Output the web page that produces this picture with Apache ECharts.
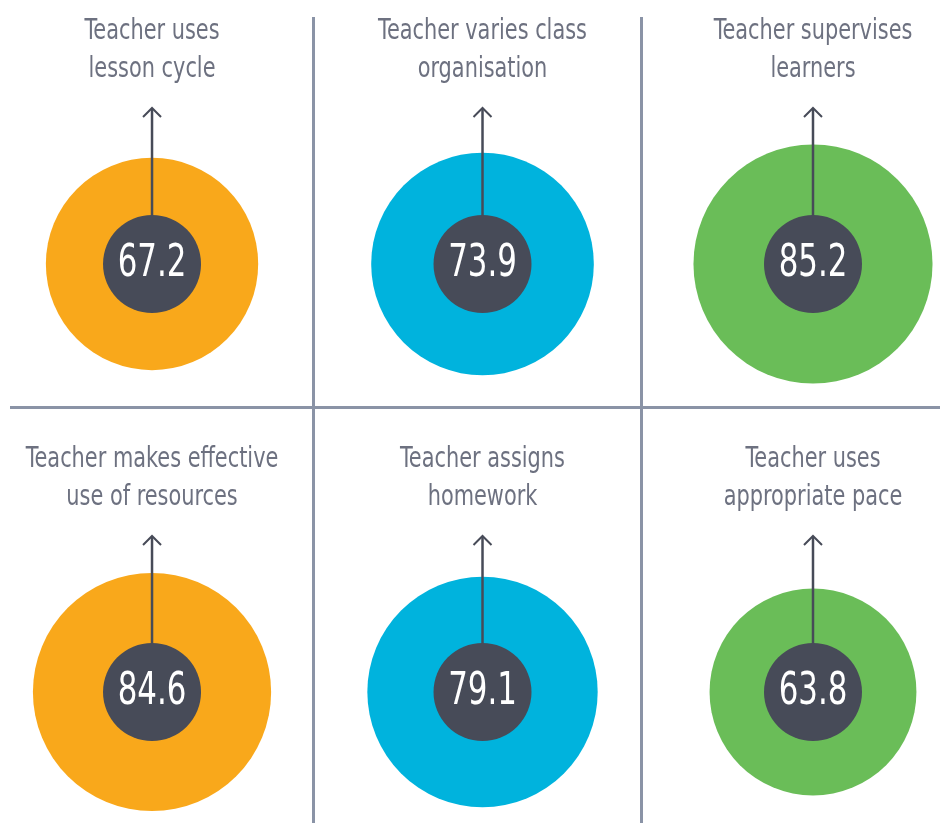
<!DOCTYPE html>
<html>
<head>
<meta charset="utf-8">
<script src="https://cdn.jsdelivr.net/npm/echarts@6/dist/echarts.min.js"></script>
<style>
  html, body { margin: 0; padding: 0; background: #ffffff; }
  #chart { width: 940px; height: 823px; }
</style>
</head>
<body>
<div id="chart"></div>
<script>
// Classroom practice indicators, one panel each (column, row)
const titles = [
  'Teacher uses\nlesson cycle',
  'Teacher varies class\norganisation',
  'Teacher supervises\nlearners',
  'Teacher makes effective\nuse of resources',
  'Teacher assigns\nhomework',
  'Teacher uses\nappropriate pace'
];
const values = [67.2, 73.9, 85.2, 84.6, 79.1, 63.8];
const columns = [0, 1, 2, 0, 1, 2];
const rows = [0, 0, 0, 1, 1, 1];
const colors = ['#f9a81b', '#00b3dd', '#6abd58', '#f9a81b', '#00b3dd', '#6abd58'];

const FONT = '"DejaVu Sans Condensed", "Liberation Sans", sans-serif';
const DARK = '#474b58';
const LINE = '#8a93a6';

const points = values.map((v, i) => ({
  value: [columns[i], rows[i], v],
  itemStyle: { color: colors[i], opacity: 1 }
}));
const centres = values.map((v, i) => ({ value: [columns[i], rows[i], v, titles[i]] }));

const chart = echarts.init(document.getElementById('chart'), null, { renderer: 'canvas' });

chart.setOption({
  animation: false,
  backgroundColor: '#ffffff',
  grid: { left: 0, top: 0, width: 940, height: 823 },
  xAxis: { type: 'value', min: -0.46, max: 2.3843, show: false },
  yAxis: { type: 'value', min: -0.6168, max: 1.3061, inverse: true, show: false },
  graphic: [
    { type: 'line', shape: { x1: 10, y1: 407.5, x2: 940, y2: 407.5 }, style: { stroke: LINE, lineWidth: 3 }, z: 0 },
    { type: 'line', shape: { x1: 313.5, y1: 17, x2: 313.5, y2: 823 }, style: { stroke: LINE, lineWidth: 3 }, z: 0 },
    { type: 'line', shape: { x1: 641.5, y1: 17, x2: 641.5, y2: 823 }, style: { stroke: LINE, lineWidth: 3 }, z: 0 }
  ],
  series: [
    {
      // outer disc: area proportional to the value
      type: 'scatter',
      data: points,
      symbol: 'circle',
      symbolSize: d => 25.9 * Math.sqrt(d[2]),
      silent: true,
      z: 2
    },
    {
      // arrow rising from the value badge, and the panel heading
      type: 'custom',
      data: centres,
      silent: true,
      z: 3,
      renderItem: function (params, api) {
        const c = api.coord([api.value(0), api.value(1)]);
        const cx = c[0], cy = c[1];
        const top = cy - 156;
        return {
          type: 'group',
          children: [
            { type: 'line', shape: { x1: cx, y1: cy - 45, x2: cx, y2: top + 1 },
              style: { stroke: DARK, lineWidth: 2.5 } },
            { type: 'polyline', shape: { points: [[cx - 9, top + 9], [cx, top], [cx + 9, top + 9]] },
              style: { stroke: DARK, lineWidth: 2, fill: null } },
            { type: 'text', x: cx, y: cy - 214, scaleX: 0.8,
              style: { text: api.value(3), fill: '#6d7180', font: '29px ' + FONT,
                       align: 'center', verticalAlign: 'middle', lineHeight: 38 } }
          ]
        };
      }
    },
    {
      // dark badge behind the value
      type: 'scatter',
      data: values.map((v, i) => [columns[i], rows[i], v]),
      symbol: 'circle',
      symbolSize: 98,
      itemStyle: { color: DARK, opacity: 1 },
      silent: true,
      z: 4
    },
    {
      // value printed on the badge
      type: 'custom',
      data: values.map((v, i) => [columns[i], rows[i], v]),
      silent: true,
      z: 5,
      renderItem: function (params, api) {
        const c = api.coord([api.value(0), api.value(1)]);
        return {
          type: 'text', x: c[0], y: c[1] + 1, scaleX: 0.78,
          style: { text: api.value(2).toFixed(1), fill: '#ffffff', font: '44px ' + FONT,
                   align: 'center', verticalAlign: 'middle' }
        };
      }
    }
  ]
});
</script>
</body>
</html>
